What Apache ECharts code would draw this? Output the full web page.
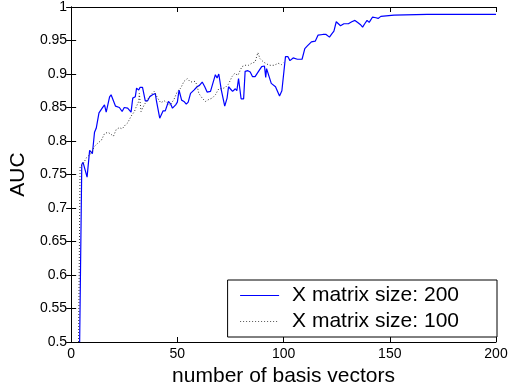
<!DOCTYPE html>
<html><head><meta charset="utf-8">
<script src="https://cdn.jsdelivr.net/npm/echarts@6/dist/echarts.min.js"></script>
<style>html,body{margin:0;padding:0;background:#fff}#c{width:523px;height:392px}</style>
</head><body><div id="c"></div>
<script>
var xTicks = [0, 50, 100, 150, 200];
var yTicks = [0.5, 0.55, 0.6, 0.65, 0.7, 0.75, 0.8, 0.85, 0.9, 0.95, 1];
var seriesNames = ['X matrix size: 200', 'X matrix size: 100'];
var blueX = [4,5,5.6,7.5,8.7,10,11,11.8,13.1,14.6,15.7,16.5,18.1,18.8,20.9,22.7,24,25,26.6,28.2,29,30.2,30.8,31.8,32.4,33.6,34.9,36,37,38.3,39.6,40.2,41.7,43.3,44.3,45.8,46.9,47.7,49.2,50,50.8,52,53.1,54.2,55.1,56.2,57.8,59.3,60.4,61.7,62.9,64,65.6,66.4,67.9,68.7,69.5,70.7,72.3,73.4,74.1,74.9,76,77.3,78,78.8,80,81.2,81.9,83.2,84.3,85.4,86.6,88.2,89.7,91,91.6,92,92.8,94.2,96.2,98.1,99.2,100.9,102,103,104.5,106.5,108.7,110,111.2,112,113.1,114.9,116.2,118.5,120,121.6,122.7,123.7,124.8,125.5,126.8,128.4,130.5,132.1,133.6,134.9,136.1,137.2,138.2,139.3,140.3,141.9,142.6,143.5,144.5,145.8,152,167.6,185,200];
var blueY = [0.5,0.765,0.768,0.746,0.786,0.781,0.813,0.819,0.842,0.849,0.854,0.843,0.866,0.869,0.852,0.850,0.844,0.850,0.849,0.843,0.864,0.866,0.879,0.876,0.880,0.880,0.860,0.860,0.866,0.869,0.871,0.859,0.834,0.845,0.845,0.859,0.855,0.849,0.854,0.858,0.876,0.861,0.859,0.855,0.858,0.871,0.876,0.881,0.883,0.888,0.881,0.873,0.874,0.873,0.899,0.894,0.900,0.876,0.852,0.864,0.881,0.878,0.874,0.878,0.875,0.893,0.863,0.863,0.904,0.905,0.903,0.896,0.896,0.904,0.911,0.912,0.895,0.908,0.908,0.886,0.881,0.867,0.875,0.926,0.926,0.920,0.924,0.922,0.922,0.938,0.942,0.940,0.948,0.949,0.958,0.959,0.959,0.955,0.960,0.964,0.978,0.976,0.972,0.975,0.975,0.978,0.980,0.977,0.974,0.970,0.975,0.980,0.977,0.985,0.983,0.984,0.983,0.986,0.988,0.989,0.989,0.989];
var dotX = [3.5,4.2,5.5,7.2,9.5,11,12.6,14.2,15.7,17.3,18.8,19.9,21.2,22.7,24,25.5,26.6,28.2,29.8,30.5,31.8,32.1,32.9,34.4,36,37.5,39.1,40.7,42.2,43.8,45.3,46.5,48.4,50,51.6,53.1,54.7,56.2,58.3,59.2,60.1,61.7,63.2,64.8,66.4,67.9,69.5,71,72.6,74.1,75.7,77,78.5,80.4,81.9,83.5,85,86.6,87.9,88.9,90.5,92,93.6,95.5,97.5,99,100];
var dotY = [0.5,0.762,0.765,0.775,0.782,0.792,0.797,0.801,0.811,0.813,0.810,0.807,0.817,0.820,0.818,0.824,0.827,0.837,0.844,0.850,0.859,0.871,0.844,0.854,0.862,0.869,0.874,0.864,0.857,0.860,0.857,0.853,0.862,0.874,0.879,0.889,0.893,0.888,0.889,0.884,0.871,0.864,0.859,0.862,0.864,0.869,0.878,0.878,0.880,0.885,0.896,0.901,0.898,0.911,0.913,0.913,0.916,0.918,0.932,0.923,0.918,0.915,0.913,0.913,0.916,0.914,0.917];

function pairs(xs, ys){ return xs.map(function(x,i){ return [x, ys[i]]; }); }
var font = 'Liberation Sans, Arial, sans-serif';
var chart = echarts.init(document.getElementById('c'), null, {renderer:'canvas'});
function yLab(v){ return String(Math.round(v*100)/100); }
var axisLine = {show:true, lineStyle:{color:'#000', width:1}};
var tick = {show:true, inside:true, length:5, lineStyle:{color:'#000', width:1}};
chart.setOption({
  animation:false,
  backgroundColor:'#fff',
  grid:{left:68, right:27, top:5, bottom:50, containLabel:false},
  xAxis:[
    {type:'value', min:0, max:200, interval:50, position:'bottom',
     axisLine:axisLine, axisTick:tick, splitLine:{show:false},
     axisLabel:{color:'#000', fontSize:14, fontFamily:font, margin:5},
     name:'number of basis vectors', nameLocation:'middle', nameGap:23,
     nameTextStyle:{color:'#000', fontSize:21, fontFamily:font}},
    {type:'value', min:0, max:200, interval:50, position:'top',
     axisLine:axisLine, axisTick:tick, splitLine:{show:false}, axisLabel:{show:false}}
  ],
  yAxis:[
    {type:'value', min:0.5, max:1, interval:0.05, position:'left',
     axisLine:axisLine, axisTick:tick, splitLine:{show:false},
     axisLabel:{color:'#000', fontSize:14, fontFamily:font, margin:4, formatter:yLab},
     name:'AUC', nameLocation:'middle', nameGap:26,
     nameTextStyle:{color:'#000', fontSize:21, fontFamily:font}},
    {type:'value', min:0.5, max:1, interval:0.05, position:'right',
     axisLine:axisLine, axisTick:tick, splitLine:{show:false}, axisLabel:{show:false}}
  ],
  legend:{
    show:true, right:26, bottom:55, orient:'vertical',
    backgroundColor:'#fff', borderColor:'#000', borderWidth:1, borderRadius:0,
    padding:[5,38,5,12], itemGap:5, itemWidth:39, itemHeight:14,
    itemStyle:{color:'rgba(0,0,0,0)', borderWidth:0, opacity:0},
    textStyle:{color:'#000', fontSize:21, fontFamily:font, padding:[0,0,0,8]},
    data:[
      {name:seriesNames[0], lineStyle:{color:'#0000ff', width:1}},
      {name:seriesNames[1], lineStyle:{color:'#555', width:1, type:[1,2]}}
    ]
  },
  series:[
    {name:seriesNames[0], type:'line', data:pairs(blueX, blueY), showSymbol:false, symbol:'none',
     lineStyle:{color:'#0000ff', width:1.2}, itemStyle:{color:'#0000ff'}, clip:true},
    {name:seriesNames[1], type:'line', data:pairs(dotX, dotY), showSymbol:false, symbol:'none',
     lineStyle:{color:'#333', width:1, type:[1,2]}, itemStyle:{color:'#333'}, clip:true}
  ]
});
</script></body></html>
